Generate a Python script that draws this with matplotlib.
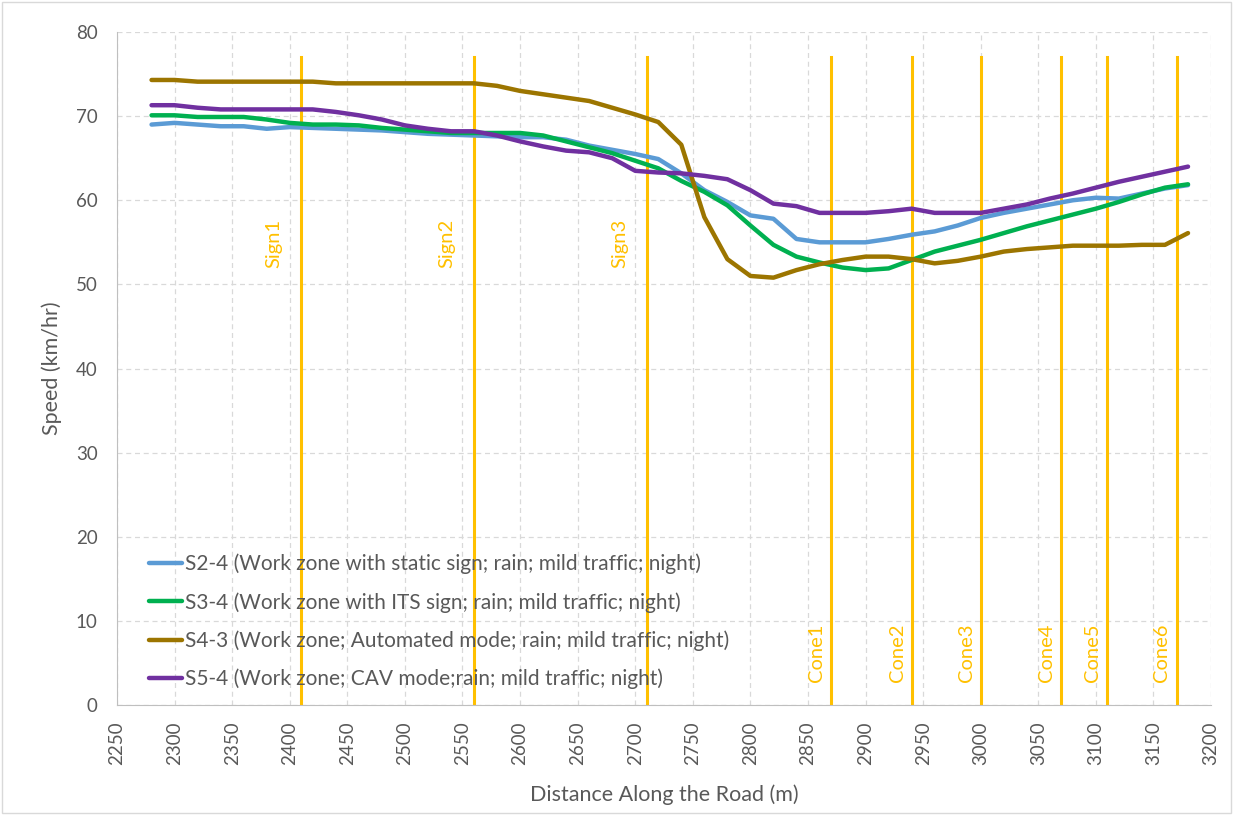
import numpy as np
import matplotlib
matplotlib.use("Agg")
import matplotlib.pyplot as plt
from matplotlib.patches import Rectangle

plt.rcParams["font.family"] = ["Lato", "DejaVu Sans"]

# ── Data ──
distance = list(range(2280, 3181, 20))

s2_4 = [69.0, 69.2, 69.0, 68.8, 68.8, 68.5, 68.7, 68.6, 68.5, 68.4,
        68.3, 68.1, 67.9, 67.8, 67.7, 67.6, 67.5, 67.5, 67.2, 66.5,
        66.0, 65.5, 64.9, 63.2, 61.2, 59.8, 58.2, 57.8, 55.4, 55.0,
        55.0, 55.0, 55.4, 55.9, 56.3, 57.0, 57.9, 58.5, 59.0, 59.5,
        60.0, 60.3, 60.2, 60.8, 61.4, 61.8]
s3_4 = [70.1, 70.1, 69.9, 69.9, 69.9, 69.6, 69.2, 69.0, 69.0, 68.9,
        68.6, 68.4, 68.2, 68.0, 68.0, 68.0, 68.0, 67.7, 67.0, 66.3,
        65.6, 64.7, 63.8, 62.3, 61.0, 59.4, 57.0, 54.7, 53.3, 52.6,
        52.0, 51.7, 51.9, 52.9, 53.9, 54.6, 55.3, 56.1, 56.9, 57.6,
        58.3, 59.0, 59.8, 60.7, 61.5, 61.9]
s4_3 = [74.3, 74.3, 74.1, 74.1, 74.1, 74.1, 74.1, 74.1, 73.9, 73.9,
        73.9, 73.9, 73.9, 73.9, 73.9, 73.6, 73.0, 72.6, 72.2, 71.8,
        71.0, 70.2, 69.3, 66.6, 58.0, 53.0, 51.0, 50.8, 51.7, 52.4,
        52.9, 53.3, 53.3, 53.0, 52.5, 52.8, 53.3, 53.9, 54.2, 54.4,
        54.6, 54.6, 54.6, 54.7, 54.7, 56.1]
s5_4 = [71.3, 71.3, 71.0, 70.8, 70.8, 70.8, 70.8, 70.8, 70.5, 70.1,
        69.6, 68.9, 68.5, 68.2, 68.2, 67.7, 67.0, 66.4, 65.9, 65.7,
        65.0, 63.5, 63.3, 63.2, 62.9, 62.5, 61.2, 59.6, 59.3, 58.5,
        58.5, 58.5, 58.7, 59.0, 58.5, 58.5, 58.5, 59.0, 59.5, 60.2,
        60.8, 61.5, 62.2, 62.8, 63.4, 64.0]

series_labels = [
    "S2-4 (Work zone with static sign; rain; mild traffic; night)",
    "S3-4 (Work zone with ITS sign; rain; mild traffic; night)",
    "S4-3 (Work zone; Automated mode; rain; mild traffic; night)",
    "S5-4 (Work zone; CAV mode;rain; mild traffic; night)",
]
series_colors = ["#5B9BD5", "#00B050", "#9C7500", "#7030A0"]

sign_names = ["Sign1", "Sign2", "Sign3"]
sign_pos = [2410, 2560, 2710]
cone_names = ["Cone1", "Cone2", "Cone3", "Cone4", "Cone5", "Cone6"]
cone_pos = [2870, 2940, 3000, 3070, 3110, 3170]

marker_color = "#FFC000"
text_gray = "#595959"

# ── Figure ──
fig = plt.figure(figsize=(12.33, 8.15), dpi=100)
ax = fig.add_axes([0.0949, 0.135, 0.8873, 0.8257])

ax.set_xlim(2250, 3200)
ax.set_ylim(0, 80)
ax.set_xticks(np.arange(2250, 3201, 50))
ax.set_yticks(np.arange(0, 81, 10))

ax.grid(True, color="#D9D9D9", linestyle=(0, (4, 3)), linewidth=0.9)
ax.set_axisbelow(True)
for side in ["top", "right"]:
    ax.spines[side].set_visible(False)
ax.spines["bottom"].set_color("#BFBFBF")
ax.spines["left"].set_color("#BFBFBF")
ax.tick_params(length=0, colors=text_gray, labelsize=13.5)
ax.tick_params(axis="x", labelrotation=90, pad=12)
ax.tick_params(axis="y", pad=14)

# series
for vals, lab, col in zip([s2_4, s3_4, s4_3, s5_4], series_labels, series_colors):
    ax.plot(distance, vals, color=col, linewidth=3.2, label=lab,
            solid_capstyle="round", zorder=3)

# sign / cone markers
for name, pos in zip(sign_names, sign_pos):
    ax.axvline(pos, ymax=77 / 80, color=marker_color, linewidth=2.2, zorder=2)
    ax.annotate(name, (pos, 54.9), xytext=(-19.5, 0), textcoords="offset points",
                rotation=90, color=marker_color, fontsize=14.5,
                ha="center", va="center")
for name, pos in zip(cone_names, cone_pos):
    ax.axvline(pos, ymax=77 / 80, color=marker_color, linewidth=2.2, zorder=2)
    ax.annotate(name, (pos, 6.2), xytext=(-10.5, 0), textcoords="offset points",
                rotation=90, color=marker_color, fontsize=14.5,
                ha="center", va="center")

ax.set_xlabel("Distance Along the Road (m)", color=text_gray, fontsize=15.5, labelpad=14)
ax.set_ylabel("Speed (km/hr)", color=text_gray, fontsize=15.5, labelpad=10)

leg = ax.legend(loc="upper left", bbox_to_anchor=(0.022, 0.237), frameon=False,
                fontsize=15, handlelength=1.55, handletextpad=0.15,
                labelspacing=0.85, borderaxespad=0)
for t in leg.get_texts():
    t.set_color(text_gray)

# chart border
fig.patches.append(Rectangle((0.002, 0.002), 0.996, 0.996, transform=fig.transFigure,
                             fill=False, edgecolor="#D9D9D9", linewidth=1))

fig.savefig("out.png", dpi=100)
